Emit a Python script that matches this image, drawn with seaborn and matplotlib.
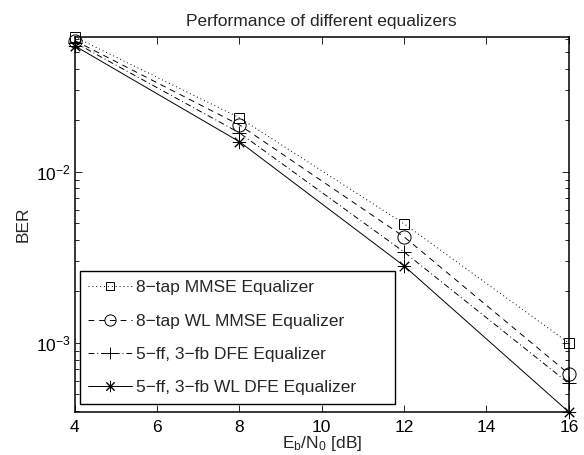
import matplotlib
matplotlib.use("Agg")
import matplotlib.pyplot as plt
import seaborn as sns
import numpy as np

snr_db = [4, 8, 12, 16]
ber_mmse = [0.0615, 0.0207, 0.00497, 0.00100]
ber_wl_mmse = [0.0585, 0.0188, 0.00417, 0.00066]
ber_dfe = [0.0570, 0.0169, 0.00340, 0.00058]
ber_wl_dfe = [0.0545, 0.0150, 0.00282, 0.000395]
labels = ["8\u2212tap MMSE Equalizer", "8\u2212tap WL MMSE Equalizer",
          "5\u2212ff, 3\u2212fb DFE Equalizer", "5\u2212ff, 3\u2212fb WL DFE Equalizer"]

sns.set_style("ticks")
plt.rcParams["font.family"] = ["Liberation Sans", "DejaVu Sans"]
plt.rcParams["mathtext.fontset"] = "custom"
plt.rcParams["mathtext.rm"] = "Liberation Sans"
plt.rcParams["mathtext.it"] = "Liberation Sans"
plt.rcParams["mathtext.sf"] = "Liberation Sans"
plt.rcParams["xtick.direction"] = "in"
plt.rcParams["ytick.direction"] = "in"

FS = 12.5
fig = plt.figure(figsize=(5.84, 4.55), dpi=100)
ax = fig.add_axes([0.128, 0.0945, 0.846, 0.8245])

series = [ber_mmse, ber_wl_mmse, ber_dfe, ber_wl_dfe]
styles = [(0, (1, 3)), (0, (6, 5)), (0, (6, 3, 1, 3)), "-"]
markers = ["s", "o", "+", (8, 2, 0)]
msizes = [7, 9.5, 10, 9.5]
for ys, ls, mk, ms, lab in zip(series, styles, markers, msizes, labels):
    sns.lineplot(x=snr_db, y=ys, ax=ax, color="black", linestyle=ls, linewidth=0.7,
                 marker=mk, markersize=ms, markerfacecolor="none",
                 markeredgecolor="black", markeredgewidth=0.7, label=lab, clip_on=False)

ax.set_yscale("log")
ax.set_xlim(4, 16)
ax.set_ylim(3.95e-4, 6.15e-2)
ax.set_xticks([4, 6, 8, 10, 12, 14, 16])
for s in ax.spines.values():
    s.set_visible(True)
    s.set_linewidth(1.1)
    s.set_color("black")
ax.tick_params(which="both", direction="in", top=True, right=True, labelsize=FS, colors="black")
ax.tick_params(axis="x", which="major", pad=6)
ax.tick_params(axis="y", which="major", pad=3)
ax.tick_params(which="major", length=5, width=0.6)
ax.tick_params(which="minor", length=3, width=0.6)
ax.set_title("Performance of different equalizers", fontsize=FS, pad=7.5)
ax.set_xlabel(r"E$_\mathregular{b}$/N$_\mathregular{0}$ [dB]", fontsize=FS, labelpad=-1)
ax.set_ylabel("BER", fontsize=FS, labelpad=4)

leg = ax.legend(loc="lower left", bbox_to_anchor=(0.0101, 0.021, 0.638, 0.37),
                mode="expand", fancybox=False, edgecolor="black", fontsize=FS,
                handlelength=2.5, labelspacing=1.05, borderaxespad=0,
                borderpad=0.5, handletextpad=0.25, framealpha=1, markerscale=0.85)
leg.get_frame().set_linewidth(1.0)

fig.savefig("out.png", dpi=100)
